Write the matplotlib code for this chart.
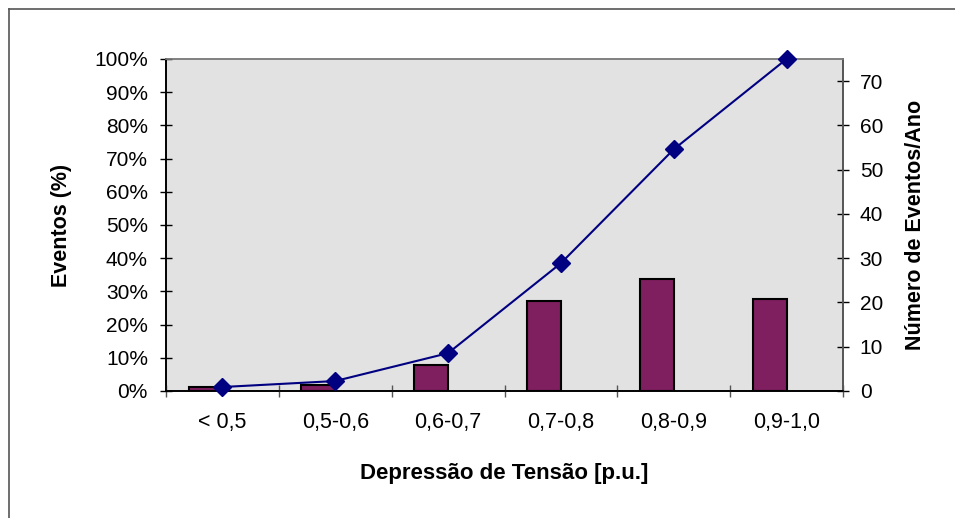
import matplotlib
matplotlib.use("Agg")
import matplotlib.pyplot as plt
import numpy as np
from matplotlib.lines import Line2D

plt.rcParams['font.family'] = ['Liberation Sans', 'DejaVu Sans']

categories = ["< 0,5", "0,5-0,6", "0,6-0,7", "0,7-0,8", "0,8-0,9", "0,9-1,0"]
eventos_ano = [1.0, 1.35, 5.9, 20.3, 25.2, 20.8]
eventos_pct = [1.2, 3.0, 11.4, 38.5, 72.8, 100.0]
left_ticks = [0, 10, 20, 30, 40, 50, 60, 70, 80, 90, 100]
right_ticks = [0, 10, 20, 30, 40, 50, 60, 70]

fig = plt.figure(figsize=(9.55, 5.18), dpi=100)
pos = [166/955, 1-391/518, (843-166)/955, (391-59)/518]

# background of plot area
bg_ax = fig.add_axes(pos, zorder=-10)
bg_ax.set_facecolor('#E2E2E2')
bg_ax.set_xticks([]); bg_ax.set_yticks([])
for s in bg_ax.spines.values():
    s.set_visible(False)

ax = fig.add_axes(pos)
ax2 = ax.twinx()

x = np.arange(len(categories))
bw = 0.3
ax2.bar(x - bw/2, eventos_ano, width=bw, color='#7F1F5F', edgecolor='black', linewidth=1.5, zorder=2)
ax.plot(x, eventos_pct, color='#000080', marker='D', markersize=9, linewidth=1.5, zorder=3, clip_on=False)
ax.set_zorder(ax2.get_zorder() + 1)
ax.patch.set_visible(False)
ax2.patch.set_visible(False)

ax.set_xlim(-0.5, len(categories) - 0.5)
ax.set_ylim(0, 100)
ax2.set_ylim(0, 75)

ax.set_yticks(left_ticks)
ax.set_yticklabels([f"{t}%" for t in left_ticks], fontsize=15)
ax2.set_yticks(right_ticks)
ax2.set_yticklabels([str(t) for t in right_ticks], fontsize=15)

ax.set_xticks(x)
ax.set_xticklabels(categories, fontsize=15.5)
ax.tick_params(axis='x', length=0, pad=15)
ax.set_xticks(np.arange(-0.5, len(categories)), minor=True)
ax.tick_params(axis='x', which='minor', direction='inout', length=8, width=1, color='#555555')
ax.tick_params(axis='y', direction='inout', length=8, width=1, pad=9)
ax2.tick_params(axis='y', direction='inout', length=8, width=1, pad=8)

for a in (ax, ax2):
    a.spines['top'].set_color('#808080')
    a.spines['left'].set_color('black')
    a.spines['bottom'].set_color('black')
    a.spines['right'].set_color('#555555')
    for s in a.spines.values():
        s.set_linewidth(1.2)

ax.set_xlabel("Depressão de Tensão [p.u.]", fontsize=16, fontweight='bold', labelpad=22)
ax.set_ylabel("Eventos (%)", fontsize=15.5, fontweight='bold', labelpad=16)
ax2.set_ylabel("Número de Eventos/Ano", fontsize=15.5, fontweight='bold', labelpad=16)

# outer chart border (left and top)
fig.add_artist(Line2D([8.5/955, 8.5/955], [0, 1-9/518], transform=fig.transFigure, color='#555555', lw=1.2))
fig.add_artist(Line2D([8.5/955, 1], [1-9/518, 1-9/518], transform=fig.transFigure, color='#555555', lw=1.2))

fig.savefig("out.png", dpi=100)
